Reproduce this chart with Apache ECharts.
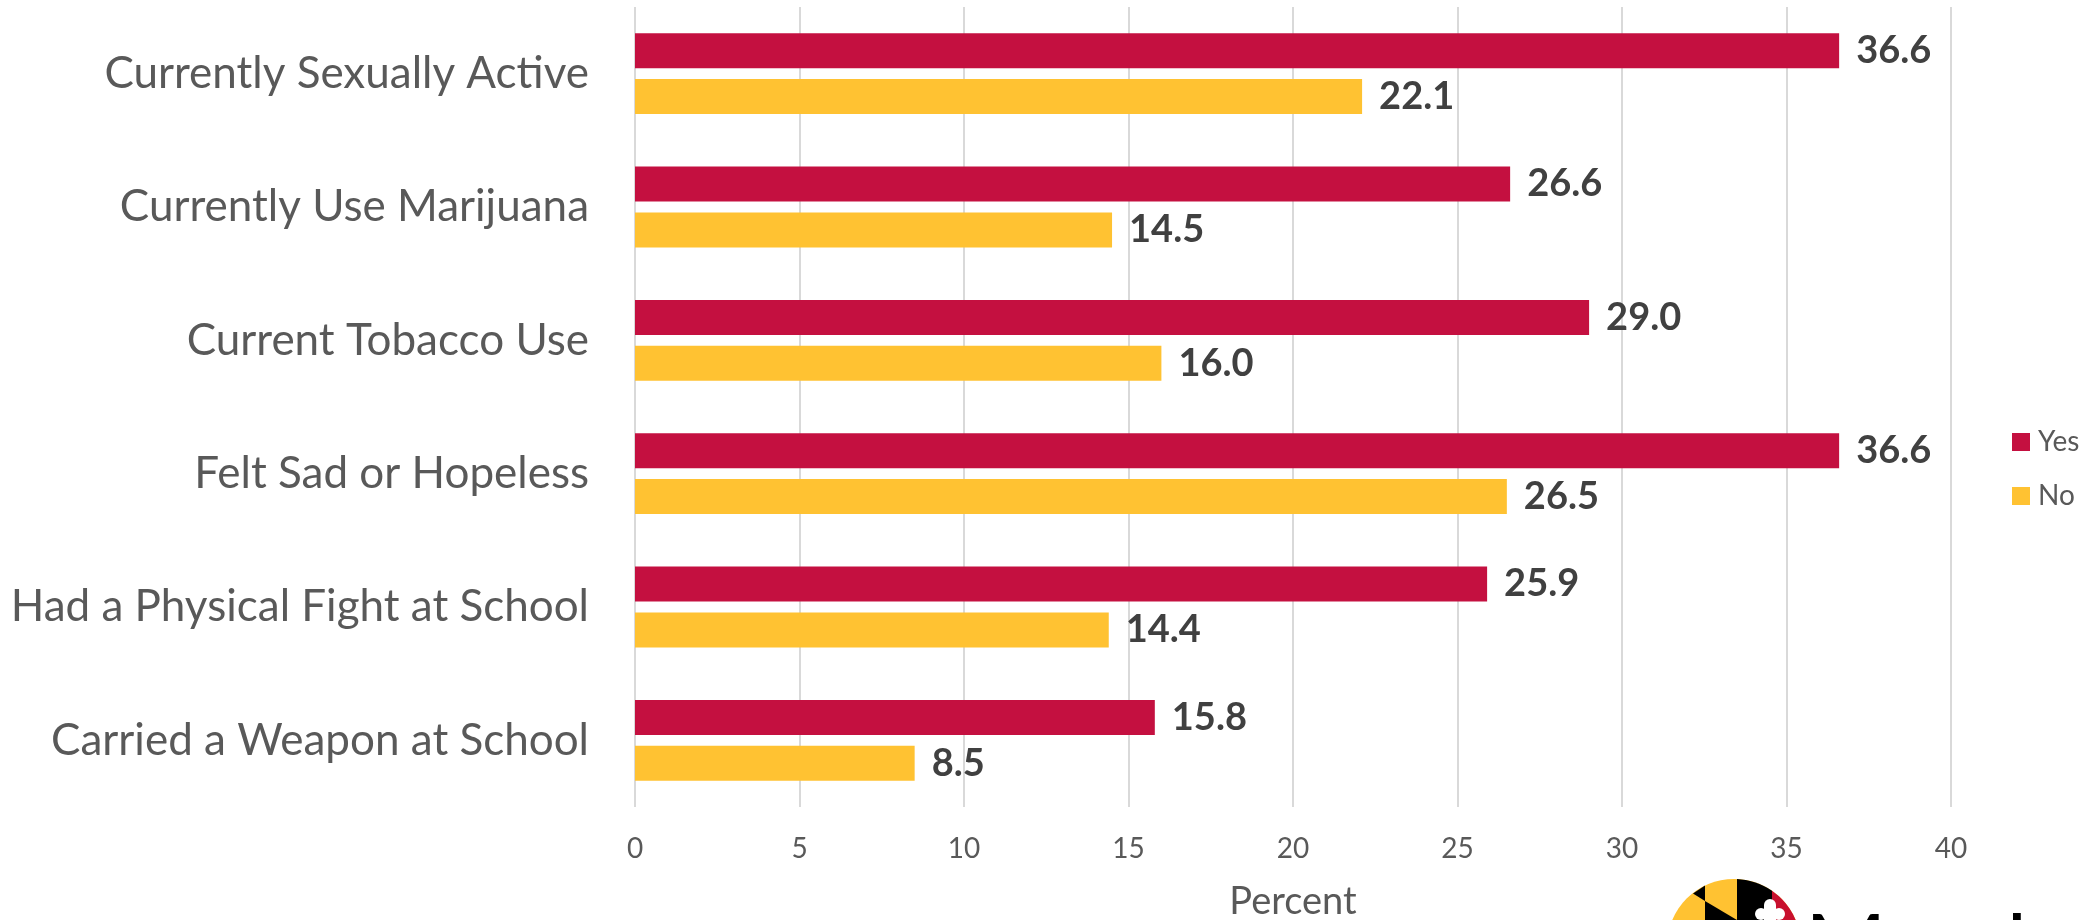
<!DOCTYPE html>
<html>
<head>
<meta charset="utf-8">
<script src="https://cdn.jsdelivr.net/npm/echarts@6/dist/echarts.min.js"></script>
<style>
html,body{margin:0;padding:0;background:#fff;}
#chart{width:2100px;height:920px;}
</style>
</head>
<body>
<div id="chart"></div>
<script>
var categories = ["Currently Sexually Active", "Currently Use Marijuana", "Current Tobacco Use", "Felt Sad or Hopeless", "Had a Physical Fight at School", "Carried a Weapon at School"];
var yesValues = [36.6, 26.6, 29.0, 36.6, 25.9, 15.8];
var noValues = [22.1, 14.5, 16.0, 26.5, 14.4, 8.5];
var xTicks = [0, 5, 10, 15, 20, 25, 30, 35, 40];

var FONT = "Lato";
var chart = echarts.init(document.getElementById('chart'), null, {renderer: 'canvas'});

// logo helper (decoration)
var cx = 1734, cy = 946, R = 67;
function topY(x) { var d = x - cx; return cy - Math.sqrt(Math.max(0, R * R - d * d)); }
function arcPts(x0, x1) { var p = []; for (var i = 0; i <= 8; i++) { var x = x0 + (x1 - x0) * i / 8; p.push([x, topY(x)]); } return p; }
var blackCol3 = arcPts(1737, 1772).concat([[1772, 920], [1737, 920]]);
var redCol4 = arcPts(1772, 1800).concat([[1800, 920], [1772, 920]]);

var labelStyle = {
  show: true, position: 'right', distance: 17,
  fontFamily: FONT, fontWeight: 'bold', fontSize: 38, color: '#404040',
  formatter: function (p) { return p.value.toFixed(1); }
};

chart.setOption({
  animation: false,
  backgroundColor: '#ffffff',
  textStyle: {fontFamily: FONT},
  grid: {left: 635, right: 149, top: 7, bottom: 113, containLabel: false, outerBoundsMode: 'none'},
  legend: {
    orient: 'vertical', left: 2012, top: 427, padding: 0,
    itemWidth: 18, itemHeight: 18, itemGap: 24, icon: 'rect',
    textStyle: {fontFamily: FONT, fontSize: 28, color: '#595959', lineHeight: 30, padding: [0, 0, 0, 3]},
    data: ['Yes', 'No']
  },
  xAxis: {
    type: 'value', min: xTicks[0], max: xTicks[xTicks.length - 1], interval: 5,
    name: 'Percent', nameLocation: 'middle', nameGap: 76,
    nameTextStyle: {fontFamily: FONT, fontSize: 38, color: '#595959'},
    axisLine: {show: false}, axisTick: {show: false},
    axisLabel: {fontFamily: FONT, fontSize: 28, color: '#595959', margin: 28},
    splitLine: {show: true, lineStyle: {color: '#d9d9d9', width: 2}}
  },
  yAxis: {
    type: 'category', data: categories, inverse: true,
    axisLine: {show: false}, axisTick: {show: false},
    axisLabel: {fontFamily: FONT, fontSize: 44, color: '#595959', margin: 46}
  },
  series: [
    {name: 'Yes', type: 'bar', data: yesValues, barWidth: 35, barGap: '31%',
     itemStyle: {color: '#C41040'}, label: labelStyle},
    {name: 'No', type: 'bar', data: noValues, barWidth: 35, barGap: '31%',
     itemStyle: {color: '#FFC232'}, label: labelStyle}
  ],
  graphic: [
    {type: 'circle', shape: {cx: cx, cy: cy, r: R}, style: {fill: '#FFC232'}, silent: true},
    {type: 'polygon', shape: {points: [[1693, 893.5], [1705, 885.6], [1705, 901]]}, style: {fill: '#000'}, silent: true},
    {type: 'polygon', shape: {points: [[1705, 901], [1737, 920], [1705, 920]]}, style: {fill: '#000'}, silent: true},
    {type: 'polygon', shape: {points: blackCol3}, style: {fill: '#000'}, silent: true},
    {type: 'polygon', shape: {points: redCol4}, style: {fill: '#C8102E'}, silent: true},
    {type: 'circle', shape: {cx: 1770, cy: 905, r: 6}, style: {fill: '#fff'}, silent: true},
    {type: 'circle', shape: {cx: 1761, cy: 914, r: 6}, style: {fill: '#fff'}, silent: true},
    {type: 'circle', shape: {cx: 1779, cy: 914, r: 6}, style: {fill: '#fff'}, silent: true},
    {type: 'rect', shape: {x: 1764, y: 905, width: 12, height: 15}, style: {fill: '#fff'}, silent: true},
    {type: 'text', left: 1805, top: 905, silent: true,
     style: {text: 'Maryland', fontFamily: FONT, fontSize: 88, fill: '#000'}}
  ]
});
</script>
</body>
</html>
